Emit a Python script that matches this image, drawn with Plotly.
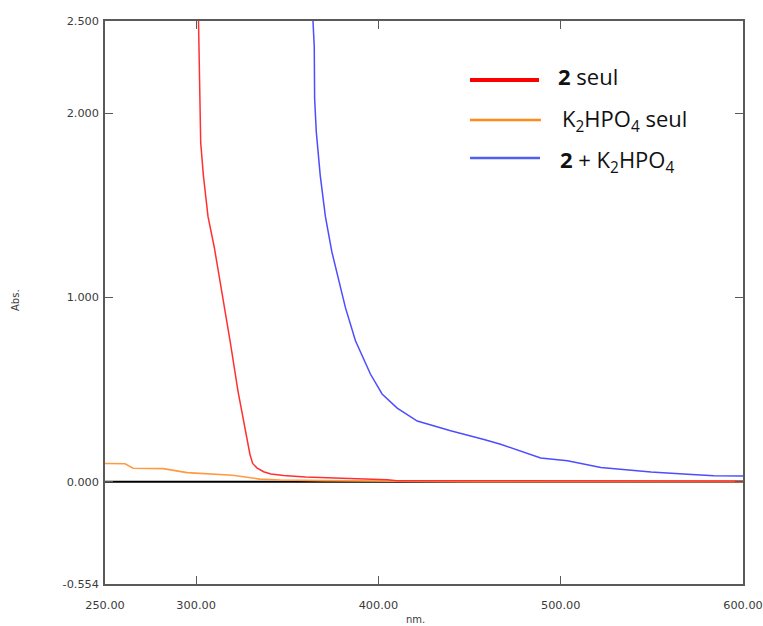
import plotly.graph_objects as go

# ---- data ----
red_nm = [301.3, 302.0, 302.5, 304.0, 306.5, 310.0, 312.5, 315.5, 318.7, 323.0, 327.0,
          329.5, 331.0, 333.3, 337.0, 341.0, 348.0, 355.0, 360.0, 380.0, 400.0, 405.0,
          410.0, 450.0, 500.0, 550.0, 600.0]
red_abs = [2.50, 2.00, 1.84, 1.66, 1.44, 1.27, 1.13, 0.95, 0.76, 0.49, 0.29,
           0.15, 0.10, 0.076, 0.055, 0.043, 0.035, 0.030, 0.027, 0.020, 0.015, 0.012,
           0.006, 0.005, 0.005, 0.005, 0.005]

orange_nm = [250.0, 261.0, 265.4, 282.0, 295.0, 309.0, 320.0, 335.0, 346.0, 370.0, 400.0,
             405.0, 450.0, 500.0, 550.0, 600.0]
orange_abs = [0.100, 0.098, 0.074, 0.072, 0.050, 0.042, 0.036, 0.015, 0.010, 0.007, 0.005,
              0.001, 0.001, 0.001, 0.001, 0.001]

blue_nm = [364.1, 364.8, 365.0, 365.9, 368.1, 370.9, 374.4, 377.3, 381.9, 387.4, 395.6,
           402.0, 410.3, 421.3, 439.6, 457.9, 467.0, 489.0, 503.7, 522.0, 549.5, 569.6,
           584.0, 600.0]
blue_abs = [2.50, 2.36, 2.08, 1.90, 1.66, 1.44, 1.25, 1.13, 0.945, 0.765, 0.585,
            0.477, 0.40, 0.33, 0.277, 0.23, 0.204, 0.13, 0.114, 0.078, 0.054, 0.042,
            0.033, 0.032]

baseline_nm = [250.0, 600.0]
baseline_abs = [0.0, 0.0]

x_ticks = [250, 300, 400, 500, 600]
x_ticklabels = ["250.00", "300.00", "400.00", "500.00", "600.00"]
y_ticks = [-0.554, 0.0, 1.0, 2.0, 2.5]
y_ticklabels = ["-0.554", "0.000", "1.000", "2.000", "2.500"]

legend_names = ["<b>2</b> seul", "K<sub>2</sub>HPO<sub>4</sub> seul", "<b>2</b> + K<sub>2</sub>HPO<sub>4</sub>"]
legend_colors = ["#ff0000", "#ff8c1a", "#4f5ff0"]

fig = go.Figure()
fig.add_trace(go.Scatter(x=baseline_nm, y=baseline_abs, mode="lines",
                         line=dict(color="#000000", width=2), showlegend=False, hoverinfo="skip"))
fig.add_trace(go.Scatter(x=orange_nm, y=orange_abs, mode="lines",
                         line=dict(color="#ff9a40", width=1.6), showlegend=False))
fig.add_trace(go.Scatter(x=red_nm, y=red_abs, mode="lines",
                         line=dict(color="#ff3030", width=1.5), showlegend=False))
fig.add_trace(go.Scatter(x=blue_nm, y=blue_abs, mode="lines",
                         line=dict(color="#4d4dff", width=1.5), showlegend=False))

axis_common = dict(showline=True, linecolor="#5a5a5a", linewidth=1.5, mirror="ticks",
                   ticks="inside", ticklen=8, tickcolor="#5a5a5a", tickwidth=1.2,
                   showgrid=False, zeroline=False, automargin=False,
                   tickfont=dict(family="DejaVu Sans", size=11.3, color="#3a3a3a"))

fig.update_xaxes(range=[250, 600], tickmode="array", tickvals=x_ticks, ticktext=x_ticklabels,
                 ticklabelstandoff=10, **axis_common)
fig.update_yaxes(range=[-0.554, 2.5], tickmode="array", tickvals=y_ticks, ticktext=y_ticklabels,
                 ticklabelstandoff=2, **axis_common)

W, H = 763, 626
L, R, T, B = 105, 20, 21, 42
pw, ph = W - L - R, H - T - B

def px_to_paper(px, py):
    return (px - L) / pw, 1 - (py - T) / ph

annotations = []
for text, (px, py), ang in [("nm.", (415, 619), 0), ("Abs.", (15, 300), -90)]:
    ax, ay = px_to_paper(px, py)
    annotations.append(dict(text=text, x=ax, y=ay, xref="paper", yref="paper", showarrow=False,
                            textangle=ang, xanchor="center", yanchor="middle",
                            font=dict(family="DejaVu Sans", size=10, color="#3a3a3a")))

legend_line_y = [80, 120, 158]
legend_line_x1 = [539, 541, 540]
legend_text_y = [76, 120, 161]
legend_text_x = [556, 560, 558]
legend_line_w = [4, 2.5, 2.5]
shapes = []
for i, name in enumerate(legend_names):
    x0, yy = px_to_paper(470, legend_line_y[i])
    x1, _ = px_to_paper(legend_line_x1[i], legend_line_y[i])
    shapes.append(dict(type="line", xref="paper", yref="paper", x0=x0, x1=x1, y0=yy, y1=yy,
                       line=dict(color=legend_colors[i], width=legend_line_w[i])))
    tx, ty = px_to_paper(legend_text_x[i], legend_text_y[i])
    annotations.append(dict(text=name, x=tx, y=ty, xref="paper", yref="paper", showarrow=False,
                            xanchor="left", yanchor="middle",
                            font=dict(family="Open Sans", size=22, color="#111111")))

fig.update_layout(width=W, height=H, margin=dict(l=L, r=R, t=T, b=B),
                  paper_bgcolor="white", plot_bgcolor="white",
                  annotations=annotations, shapes=shapes, showlegend=False)

fig.write_html("out.html", config={"displayModeBar": False},
               post_script="document.body.style.margin='0';document.body.style.overflow='hidden';")
